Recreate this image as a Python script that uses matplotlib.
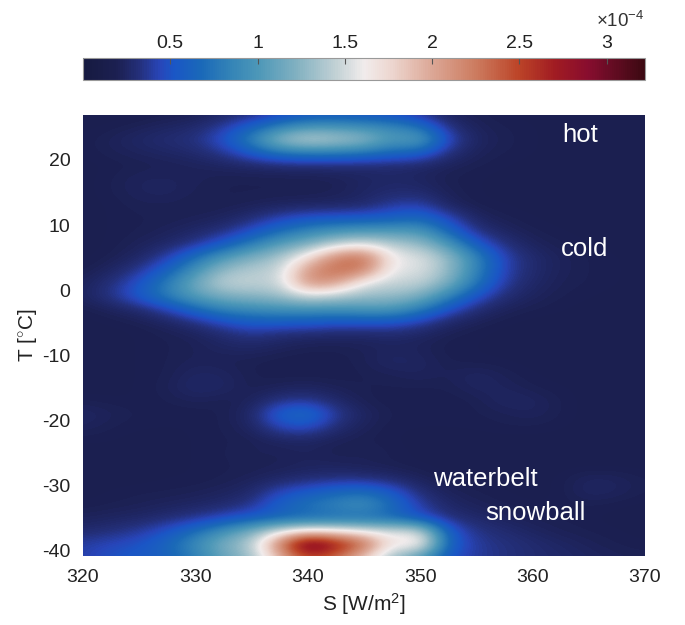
import numpy as np
import matplotlib
matplotlib.use('Agg')
import matplotlib.pyplot as plt
from matplotlib.colors import LinearSegmentedColormap
from matplotlib.ticker import FuncFormatter

# ---- data (density in units of 1e-5) ----
S_values = [320, 322.5, 325, 327.5, 330, 332.5, 335, 337.5, 340, 342.5, 345,
            347.5, 350, 352.5, 355, 357.5, 360, 362.5, 365, 367.5, 370]
T_values = [27, 25, 23, 21, 19, 17, 15, 13, 11, 9, 7, 5, 3, 1, -1, -3, -5, -7,
            -9, -11, -13, -15, -17, -19, -21, -23, -25, -27, -29, -31, -33,
            -35, -37, -39, -41]
density_e5 = [
    [1.8,1.8,1.8,1.9,2.0,2.5,3.0,4.2,5.0,5.2,5.0,4.6,3.4,2.2,2.0,1.9,1.8,1.8,1.8,1.8,1.8],
    [1.8,1.9,2.1,2.4,2.7,3.8,5.8,8.0,9.5,9.5,9.0,8.5,7.0,3.2,2.2,2.0,1.9,1.8,1.8,1.8,1.8],
    [1.9,2.2,2.6,3.0,3.3,5.0,8.5,13.0,15.0,14.0,13.0,10.0,11.0,4.5,2.4,2.1,1.9,1.8,1.8,1.8,1.8],
    [1.9,2.1,2.3,2.5,2.8,3.6,5.5,7.5,8.0,8.0,7.5,6.5,6.0,3.2,2.2,2.0,1.9,1.8,1.8,1.8,1.8],
    [1.8,1.9,2.0,2.1,2.2,2.4,2.6,2.8,2.9,2.9,2.8,2.8,2.6,2.2,2.0,1.9,1.8,1.8,1.8,1.8,1.8],
    [1.8,2.0,2.3,2.3,2.2,2.0,2.0,2.0,2.0,2.1,2.4,2.6,2.4,2.0,1.9,1.8,1.8,1.8,1.8,1.8,1.8],
    [1.8,2.0,2.3,2.4,2.1,2.0,2.0,2.0,2.0,2.1,2.5,2.8,2.8,2.1,1.9,1.8,1.8,1.8,1.8,1.8,1.8],
    [1.8,1.9,2.1,2.1,2.0,2.0,2.1,2.3,2.4,2.5,2.7,3.8,4.2,2.4,1.9,1.9,1.8,1.8,1.8,1.8,1.8],
    [1.8,1.9,2.0,2.0,2.1,2.3,3.0,4.2,5.0,5.2,5.4,5.8,6.5,4.5,2.4,2.0,1.9,1.8,1.8,1.8,1.8],
    [1.8,1.9,2.0,2.2,2.6,3.2,4.8,6.8,8.5,9.5,10.0,10.0,10.0,6.5,3.3,2.4,2.0,1.9,1.8,1.8,1.8],
    [1.8,1.9,2.2,2.6,3.5,5.5,8.0,10.5,12.0,14.5,15.5,14.0,13.0,10.0,5.5,3.2,2.3,2.0,1.9,1.8,1.8],
    [1.8,2.0,2.5,4.0,7.0,10.0,12.0,13.5,17.0,22.0,23.5,16.0,15.5,13.0,8.5,4.2,2.8,2.2,2.0,1.9,1.8],
    [1.9,2.4,3.6,6.0,9.5,13.0,14.0,14.5,21.0,23.5,22.5,15.5,15.5,13.0,8.5,4.2,2.8,2.2,2.0,1.9,1.8],
    [2.2,3.2,5.0,8.0,11.5,14.5,14.5,14.5,21.5,20.5,15.5,14.5,14.5,12.0,7.5,3.8,2.6,2.1,2.0,1.9,1.8],
    [2.3,3.5,5.5,8.0,10.5,12.0,12.5,13.0,15.0,14.0,13.0,13.0,12.0,8.5,5.0,3.0,2.3,2.0,1.9,1.8,1.8],
    [1.9,2.2,2.8,4.2,6.5,8.5,9.0,9.5,9.5,9.5,10.0,10.0,8.0,5.0,3.0,2.2,2.0,1.9,1.8,1.8,1.8],
    [1.8,1.9,2.0,2.4,3.2,4.6,5.6,5.5,5.5,5.0,5.0,5.0,4.0,2.6,2.1,1.9,1.8,1.8,1.8,1.8,1.8],
    [1.8,1.8,1.9,2.0,2.2,2.8,3.4,2.9,2.6,2.5,2.5,2.7,2.4,2.0,1.9,1.8,1.8,1.8,1.8,1.8,1.8],
    [1.8,1.8,1.9,2.0,2.1,2.4,2.5,2.2,2.0,2.0,2.1,2.3,2.2,1.9,1.9,1.8,1.8,1.8,1.8,1.8,1.8],
    [1.8,1.8,1.9,2.0,2.2,2.1,2.0,1.9,1.9,1.9,2.1,2.6,2.4,2.0,1.9,1.9,1.8,1.8,1.8,1.8,1.8],
    [1.8,1.8,1.9,2.0,2.5,2.4,2.0,1.9,1.9,1.9,2.0,2.1,2.3,2.1,2.5,2.1,1.9,1.8,1.8,1.8,1.8],
    [1.8,1.8,1.9,2.1,2.7,2.5,2.0,2.2,2.4,2.1,2.0,2.0,2.0,2.0,2.4,2.3,2.0,1.9,1.8,1.8,1.8],
    [2.0,1.9,1.9,2.0,2.2,2.0,2.2,3.4,3.7,2.7,2.0,1.9,1.9,1.9,2.0,2.5,2.4,2.0,1.8,1.8,1.8],
    [2.5,2.2,2.0,1.9,1.9,2.0,2.6,6.0,7.0,3.8,2.4,2.0,1.9,1.9,2.0,2.1,2.3,2.0,1.8,1.8,1.8],
    [2.3,2.0,1.9,1.9,1.9,2.0,2.4,4.5,5.0,3.0,2.2,1.9,1.9,1.9,1.9,2.0,2.0,1.9,1.8,1.8,1.8],
    [1.9,1.9,1.8,1.8,1.9,2.0,2.0,2.4,2.5,2.1,2.0,1.9,1.8,1.8,1.8,1.8,1.8,1.8,1.8,1.8,1.8],
    [1.8,1.8,1.8,1.8,1.9,2.0,2.2,2.1,2.3,2.0,2.2,2.0,1.8,1.8,1.8,1.8,1.8,1.8,1.8,1.8,1.8],
    [1.8,1.8,1.8,1.8,1.9,2.0,2.0,2.1,2.3,2.3,2.1,2.0,1.9,1.8,1.8,1.8,1.8,1.8,1.8,1.8,1.8],
    [1.8,1.8,1.8,1.9,1.9,2.0,2.2,2.6,3.0,3.3,3.3,2.8,2.2,1.9,1.9,1.8,1.8,1.9,2.4,2.3,2.0],
    [1.8,1.9,2.0,2.0,2.1,2.3,2.7,4.5,5.5,6.5,7.0,5.5,3.0,2.2,2.0,1.9,1.8,1.9,2.5,2.3,2.0],
    [1.9,2.0,2.1,2.3,2.5,2.8,3.5,6.0,7.5,8.5,9.5,7.0,4.0,2.6,2.2,2.0,1.9,1.9,2.0,1.9,1.8],
    [2.2,2.4,2.6,3.0,3.6,4.6,5.6,6.3,6.5,6.8,6.8,6.5,5.0,3.2,2.7,2.3,2.1,2.0,1.9,1.8,1.8],
    [2.8,3.2,3.8,5.0,7.0,9.5,12.0,15.5,17.5,17.0,16.0,15.5,15.5,5.5,3.4,2.9,2.4,2.1,2.0,1.9,1.8],
    [4.0,4.5,5.0,6.5,9.0,12.0,14.0,22.5,32.0,28.0,24.0,16.0,18.0,6.0,3.8,3.3,2.9,2.5,2.2,2.0,1.9],
    [4.0,5.0,5.5,6.0,8.0,11.0,13.0,19.0,25.0,23.0,18.0,13.0,10.0,5.0,3.8,3.3,2.9,2.7,2.4,2.2,2.1],
]
cbar_ticks = [0.5e-4, 1.0e-4, 1.5e-4, 2.0e-4, 2.5e-4, 3.0e-4]
x_ticks = [320, 330, 340, 350, 360, 370]
y_ticks = [-40, -30, -20, -10, 0, 10, 20]
labels = ['hot', 'cold', 'waterbelt', 'snowball']
label_S = [362.6, 362.5, 351.1, 355.8]
label_T = [22.7, 5.3, -30.1, -35.2]

# ---- style ----
plt.rcParams['font.family'] = ['Liberation Sans', 'DejaVu Sans']
plt.rcParams['axes.unicode_minus'] = False
plt.rcParams['mathtext.fontset'] = 'custom'
plt.rcParams['mathtext.rm'] = 'Liberation Sans'
plt.rcParams['mathtext.it'] = 'Liberation Sans:italic'
plt.rcParams['mathtext.bf'] = 'Liberation Sans:bold'

balance_colors = [
    (0.00, '#161a40'), (0.06, '#1c2052'), (0.10, '#24307c'), (0.135, '#2845b8'),
    (0.16, '#1a56c6'), (0.21, '#1a69b8'), (0.26, '#3383b7'), (0.31, '#4c97b8'),
    (0.38, '#82b1c1'), (0.45, '#c2d1d5'), (0.50, '#f1ecec'), (0.55, '#edd6cf'),
    (0.62, '#dca897'), (0.70, '#cc7b5f'), (0.776, '#bc4428'), (0.84, '#a11c22'),
    (0.90, '#880d2e'), (0.94, '#680c24'), (1.00, '#3c0912'),
]
cmap = LinearSegmentedColormap.from_list('balance_like', balance_colors)

fig = plt.figure(figsize=(6.85, 6.25), dpi=100)
ax = fig.add_axes([0.1212, 0.1104, 0.8204, 0.7056])

Z = np.array(density_e5) * 1e-5
dS = S_values[1] - S_values[0]
dT = T_values[0] - T_values[1]
extent = [S_values[0] - dS / 2, S_values[-1] + dS / 2,
          T_values[-1] - dT / 2, T_values[0] + dT / 2]
im = ax.imshow(Z, cmap=cmap, vmin=0, vmax=3.22e-4, extent=extent,
               origin='upper', aspect='auto', interpolation='bicubic',
               interpolation_stage='data')
ax.set_xlim(320, 370)
ax.set_ylim(-40.8, 26.9)
ax.set_xticks(x_ticks)
ax.set_yticks(y_ticks)
ax.tick_params(length=0, labelsize=14, colors='#222222', pad=9)
for sp in ax.spines.values():
    sp.set_visible(False)
ax.set_xlabel(r'S [W/m$^2$]', fontsize=15, color='#222222', labelpad=4)
ax.set_ylabel(r'T [$^{\circ}$C]', fontsize=15, color='#222222', labelpad=2)

for txt, s, t in zip(labels, label_S, label_T):
    ax.text(s, t, txt, color='white', fontsize=18.5, ha='left', va='baseline')

cax = fig.add_axes([0.1212, 0.872, 0.8204, 0.0352])
cb = fig.colorbar(im, cax=cax, orientation='horizontal')
cb.set_ticks(cbar_ticks)
cax.xaxis.set_ticks_position('top')
cax.xaxis.set_major_formatter(FuncFormatter(lambda v, p: f'{v * 1e4:g}'))
cax.tick_params(direction='in', length=4, width=0.8, color='#555555',
                labelsize=14, labelcolor='#222222', pad=4)
cb.outline.set_edgecolor('#999999')
cb.outline.set_linewidth(0.8)
fig.text(645 / 685, 1 - 27 / 625, r'$\times10^{-4}$', ha='right', va='baseline',
         fontsize=13.5, color='#333333')

fig.savefig('out.png', dpi=100)
